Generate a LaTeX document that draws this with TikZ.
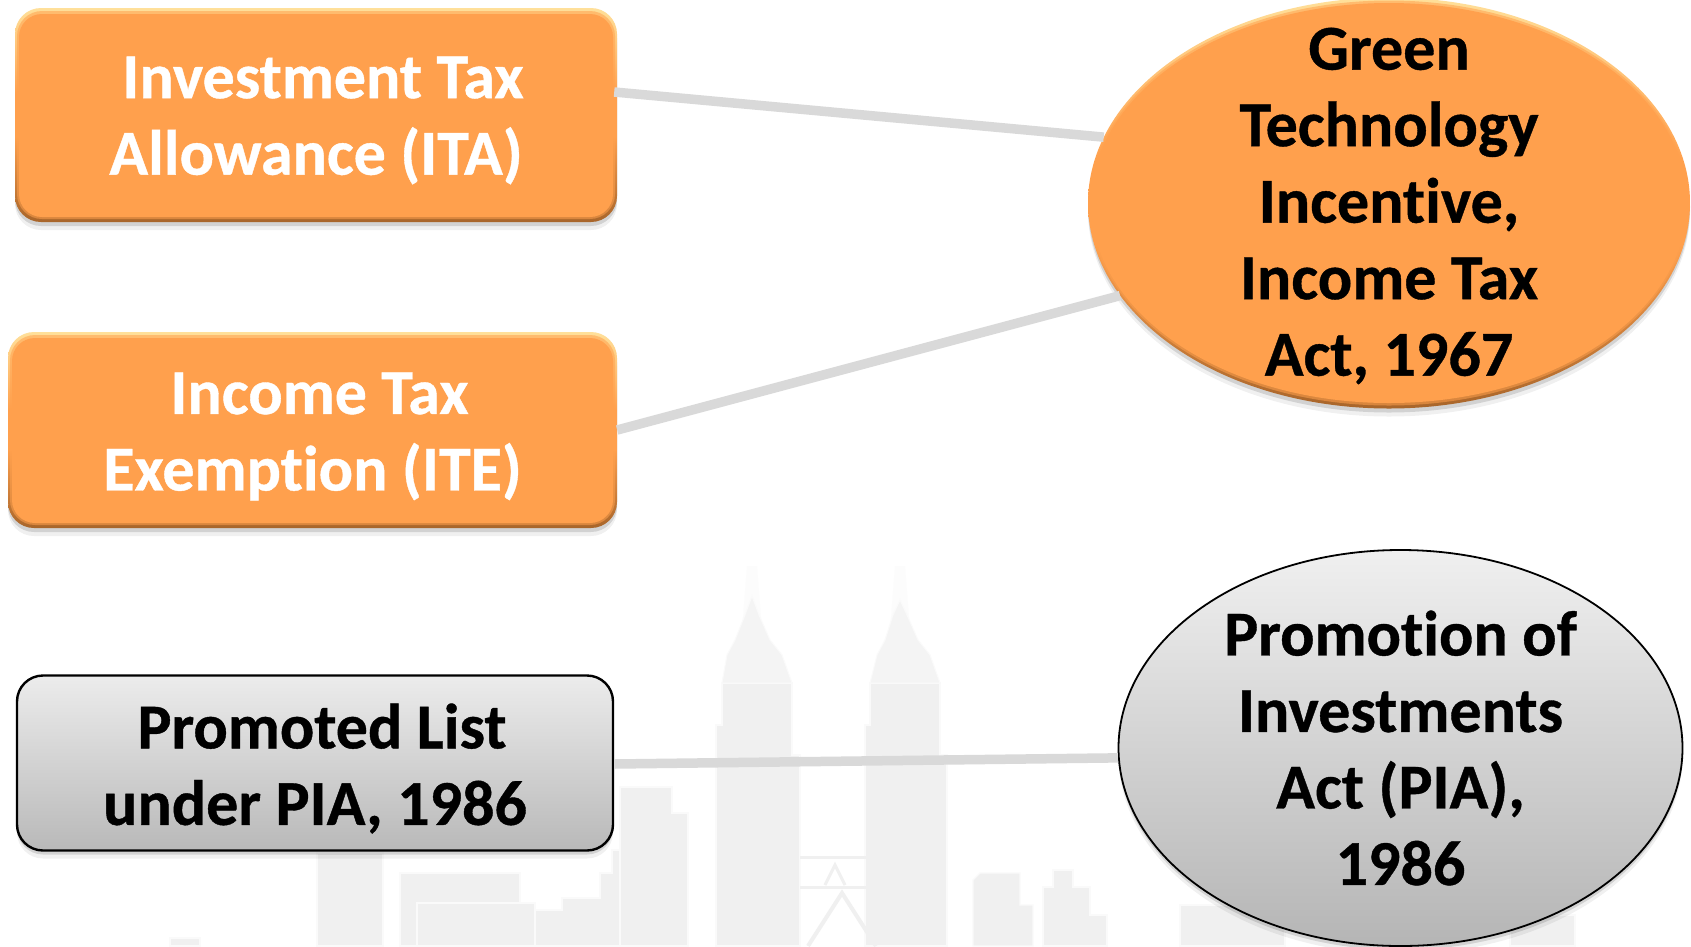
\documentclass[tikz,border=0pt]{standalone}
\usepackage{fontspec}
\setmainfont[Ligatures=NoCommon,BoldFeatures={FakeBold=0.6}]{Carlito}
\usetikzlibrary{shadows,shapes.geometric}
\definecolor{orangeflat}{HTML}{FFA04D}
\definecolor{bevhi}{HTML}{FFE09A}
\definecolor{bevlo}{HTML}{A8652A}
\definecolor{wm}{HTML}{F0F0F0}
\definecolor{wmlight}{HTML}{F4F4F4}
\definecolor{wmfaint}{HTML}{FCFCFC}
\definecolor{wmline}{HTML}{FAFAFA}
\definecolor{linkgray}{HTML}{D9D9D9}
\pgfdeclareverticalshading{bevel}{100bp}{
 color(0bp)=(bevlo); color(25bp)=(bevlo); color(45bp)=(orangeflat); color(55bp)=(orangeflat); color(75bp)=(bevhi); color(100bp)=(bevhi)}
\tikzset{
 softshadow/.style={
  general shadow={fill=black,opacity=.06,shadow xshift=0pt,shadow yshift=-8pt},
  general shadow={fill=black,opacity=.12,shadow xshift=0pt,shadow yshift=-4pt}},
 labeltext/.style={font=\fontsize{64}{76.5}\selectfont\bfseries,align=center,inner sep=0pt},
 orangeboxshape/.style={rectangle,rounded corners=26pt,softshadow,shading=bevel,
  path picture={
   \fill[orangeflat,opacity=.55,rounded corners=25pt] ([shift={(2pt,-3pt)}]path picture bounding box.north west) rectangle ([shift={(-2pt,3pt)}]path picture bounding box.south east);
   \fill[orangeflat,rounded corners=23pt] ([shift={(4pt,-6pt)}]path picture bounding box.north west) rectangle ([shift={(-4pt,5pt)}]path picture bounding box.south east);}},
 grayboxshape/.style={rectangle,rounded corners=26pt,draw=black,line width=2.4pt,softshadow,top color=gray!15!white,bottom color=gray!55!white},
 grayellipse/.style={ellipse,inner sep=0pt,draw=black,line width=1.8pt,softshadow,top color=gray!12!white,bottom color=gray!58!white},
 orangeellipse/.style={ellipse,inner sep=0pt,softshadow,shading=bevel,
  path picture={
   \fill[orangeflat,opacity=.55] (path picture bounding box.center) ellipse [x radius=299.5pt,y radius=202.5pt];
   \fill[orangeflat] (path picture bounding box.center) ellipse [x radius=298pt,y radius=200pt];}},
 whitetext/.style={labeltext,text=white},
 blacktext/.style={labeltext,text=black},
 link/.style={linkgray,line width=9.5pt},
 wmshape/.style={fill=wm,draw=wmline,line width=1.2pt},
 wmcrown/.style={fill=wmlight,draw=wmline,line width=1pt},
}
\begin{document}
\begin{tikzpicture}[x=1pt,y=-1pt]
\useasboundingbox (0,0) rectangle (1691,946);
\fill[white] (0,0) rectangle (1691,946);
\clip (0,0) rectangle (1691,946);
% watermark skyline
\fill[wmfaint] (747,566) -- (757,566) -- (762,630) -- (742,630) -- cycle;
\fill[wmfaint] (895,566) -- (905,566) -- (910,630) -- (890,630) -- cycle;
\draw[wmshape] (317,946) -- (317,853) -- (383,853) -- (383,946) -- cycle;
\draw[wmshape] (400,946) -- (400,873) -- (520,873) -- (520,946) -- cycle;
\draw[wmshape] (417,946) -- (417,903) -- (535,903) -- (535,946) -- cycle;
\draw[wmshape] (535,946) -- (535,910) -- (562,910) -- (562,898) -- (600,898) -- (600,873) -- (612,873) -- (612,850) -- (630,850) -- (630,946) -- cycle;
\draw[wmshape] (620,946) -- (620,787) -- (672,787) -- (672,813) -- (688,813) -- (688,946) -- cycle;
\draw[wmshape] (170,946) -- (170,938) -- (200,938) -- (200,946) -- cycle;
\draw[wmshape] (716,946) -- (716,725) -- (722,725) -- (722,683) -- (792,683) -- (792,755) -- (800,755) -- (800,946) -- cycle;
\draw[wmcrown] (722,683) -- (727,655) -- (735,640) -- (745,615) -- (752,596) -- (759,615) -- (770,640) -- (782,655) -- (792,683) -- cycle;
\draw[wmshape] (865,946) -- (865,725) -- (870,725) -- (870,683) -- (940,683) -- (940,755) -- (947,755) -- (947,946) -- cycle;
\draw[wmcrown] (870,683) -- (877,655) -- (885,640) -- (893,615) -- (900,600) -- (907,615) -- (918,640) -- (930,655) -- (940,683) -- cycle;
\draw[wm,line width=3pt] (800,857) -- (866,857);
\draw[wm,line width=3pt] (800,887) -- (866,887);
\draw[wm,line width=3pt] (825,885) -- (835,865) -- (845,885);
\draw[wm,line width=4pt] (808,946) -- (842,893) -- (876,946);
\draw[wmshape] (973,946) -- (973,880) -- (980,873) -- (1020,873) -- (1020,905) -- (1033,905) -- (1033,946) -- cycle;
\draw[wmshape] (1043,946) -- (1043,887) -- (1053,887) -- (1053,870) -- (1073,870) -- (1073,887) -- (1090,887) -- (1090,915) -- (1107,915) -- (1107,946) -- cycle;
\draw[wmshape] (1180,946) -- (1180,905) -- (1285,905) -- (1285,946) -- cycle;
\draw[wmshape] (1510,946) -- (1510,915) -- (1575,915) -- (1575,946) -- cycle;
% boxes
\node[orangeboxshape,minimum width=602pt,minimum height=214pt] (b1) at (316,115) {};
\node[whitetext] (b1t) at ([yshift=-5.5pt]b1.center) {\hspace*{14pt}Investment Tax\\Allowance (ITA)};
\node[orangeboxshape,minimum width=609pt,minimum height=196pt] (b2) at (312.5,430) {};
\node[whitetext] (b2t) at ([yshift=-6.5pt]b2.center) {\hspace*{14pt}Income Tax\\Exemption (ITE)};
\node[grayboxshape,minimum width=596pt,minimum height=175pt] (b3) at (315,763) {};
\node[blacktext] (b3t) at ([yshift=-5.5pt]b3.center) {\hspace*{14pt}Promoted List\\under PIA, 1986};
\node[orangeellipse,minimum width=602pt,minimum height=411pt] (e1) at (1389,203) {};
\node[blacktext] (e1t) at ([yshift=-3pt]e1.center) {Green\\Technology\\Incentive,\\Income Tax\\Act, 1967};
\node[grayellipse,minimum width=564pt,minimum height=396pt] (e2) at (1400.5,748) {};
\node[blacktext] (e2t) at (e2.center) {Promotion of\\Investments\\Act (PIA),\\1986};
% connectors
\draw[link] ([xshift=-3pt,yshift=23pt]b1.east) -- (e1.167.6);
\draw[link] (b2.east) -- (e1.199.6);
\draw[link] ([yshift=-1pt]b3.east) -- (e2.182);
\end{tikzpicture}
\end{document}
